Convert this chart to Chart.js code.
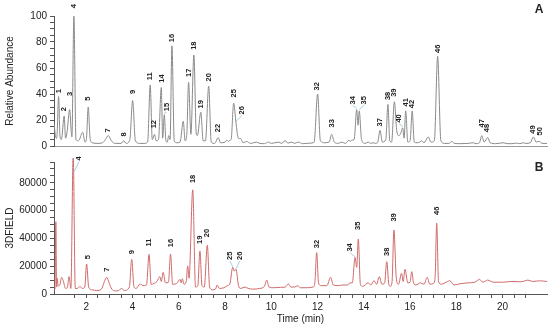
<!DOCTYPE html>
<html>
<head>
<meta charset="utf-8">
<script src="https://cdn.jsdelivr.net/npm/chart.js@4.4.1/dist/chart.umd.min.js"></script>
<style>
    html, body { margin: 0; padding: 0; background: #fff; }
    #wrap { position: relative; width: 550px; height: 331px; overflow: hidden; }
    #chartA { position: absolute; left: 0; top: 0; }
    #chartB { position: absolute; left: 0; top: 150px; }
</style>
</head>
<body>
<div id="wrap">
    <canvas id="chartA" width="550" height="155"></canvas>
    <canvas id="chartB" width="550" height="181"></canvas>
</div>
<script>
// panel A - total ion trace (relative abundance)
var timeA = [0.60, 0.66, 0.72, 0.80, 0.86, 0.92, 1.04, 1.10, 1.16, 1.28, 1.34, 1.375, 1.46, 1.55, 1.64, 1.69, 1.84, 1.94, 2.00, 2.08,
    2.16, 2.25, 2.50, 2.70, 2.82, 2.95, 3.08, 3.25, 3.50, 3.62, 3.72, 3.88, 4.00, 4.12, 4.30, 4.50, 4.65, 4.76, 4.85, 4.95,
    5.02, 5.12, 5.24, 5.30, 5.37, 5.44, 5.50, 5.56, 5.62, 5.70, 5.80, 5.90, 6.05, 6.19, 6.27, 6.34, 6.42, 6.52, 6.65, 6.75,
    6.80, 6.95, 7.05, 7.15, 7.29, 7.40, 7.55, 7.70, 7.80, 8.00, 8.07, 8.14, 8.21, 8.26, 8.37, 8.47, 8.57, 8.67, 8.78, 8.93,
    9.10, 9.36, 9.50, 9.70, 9.87, 10.00, 10.30, 10.45, 10.59, 10.72, 10.88, 11.00, 11.16, 11.35, 11.67, 11.85, 12.00, 12.12, 12.30, 12.50,
    12.61, 12.72, 12.90, 13.04, 13.20, 13.36, 13.42, 13.47, 13.58, 13.69, 13.75, 13.80, 13.90, 14.05, 14.19, 14.30, 14.39, 14.50, 14.60, 14.70,
    14.80, 14.95, 15.04, 15.12, 15.20, 15.32, 15.42, 15.50, 15.58, 15.68, 15.74, 15.81, 15.90, 16.00, 16.09, 16.18, 16.30, 16.42, 16.50, 16.60,
    16.79, 16.90, 17.05, 17.19, 17.33, 17.50, 17.68, 17.80, 17.92, 18.20, 18.50, 18.73, 18.85, 19.00, 19.10, 19.20, 19.36, 19.46, 19.70, 20.03,
    20.20, 20.40, 20.61, 20.75, 20.89, 21.00, 21.20, 21.33, 21.45, 21.59, 21.70, 21.92];
var abundA = [18, 8, 6, 38, 7, 5, 23, 6, 10, 28, 12, 7, 100, 5, 4, 4.5, 10.6, 3, 5, 30,
    6, 2.5, 2, 2.5, 5, 8, 4, 2, 2, 4, 2, 5, 35, 4, 2, 2, 3, 47, 5, 9,
    4, 5, 45, 6, 24, 4, 3, 8, 5, 77, 4, 2.5, 3, 19, 4, 8, 49, 9, 70, 10,
    8, 26, 4, 4, 46, 3, 2, 6.5, 2.5, 3, 4.5, 3.5, 4.5, 5, 33, 18, 6, 5.7, 2.5, 3.5,
    2, 3, 2, 1.8, 3, 2, 3, 2, 4.2, 2.2, 3, 2, 3, 1.8, 2.2, 3, 40, 4, 2.5, 3,
    9, 3, 2, 3, 2, 4.5, 3.5, 4.5, 5, 28, 16, 27, 5, 2, 3, 2, 2.5, 2, 3, 12,
    3, 5, 32, 4, 3, 34, 12, 8, 9, 14, 6, 27, 3, 4, 27, 3, 2.5, 3, 4, 2.5,
    7, 3, 4, 69, 4, 2, 2, 3.5, 2, 1.8, 2, 2.5, 1.8, 2.5, 8, 3, 6.5, 2.5, 1.8, 2.5,
    1.8, 1.8, 2.2, 1.8, 2.5, 2, 2.5, 7, 3, 3.6, 2, 2];

// panel B - 3D field trace
var timeB = [0.60, 0.64, 0.68, 0.71, 0.74, 0.78, 0.85, 0.93, 1.00, 1.10, 1.18, 1.25, 1.33, 1.43, 1.52, 1.60, 1.72, 1.84, 1.93, 2.01,
    2.10, 2.25, 2.45, 2.65, 2.78, 2.88, 2.98, 3.10, 3.25, 3.40, 3.52, 3.65, 3.86, 3.96, 4.06, 4.15, 4.32, 4.45, 4.60, 4.71,
    4.80, 4.92, 5.05, 5.18, 5.24, 5.32, 5.42, 5.55, 5.64, 5.73, 5.90, 6.05, 6.10, 6.15, 6.22, 6.32, 6.38, 6.44, 6.60, 6.72,
    6.82, 6.91, 7.00, 7.10, 7.23, 7.33, 7.45, 7.58, 7.66, 7.75, 7.95, 8.10, 8.20, 8.33, 8.40, 8.47, 8.58, 8.68, 8.86, 9.00,
    9.20, 9.50, 9.70, 9.80, 9.90, 10.10, 10.40, 10.60, 10.73, 10.85, 11.00, 11.14, 11.25, 11.50, 11.80, 11.88, 11.96, 12.04, 12.15, 12.40,
    12.56, 12.68, 12.90, 13.10, 13.30, 13.40, 13.50, 13.62, 13.69, 13.76, 13.85, 13.95, 14.19, 14.30, 14.44, 14.55, 14.67, 14.78, 14.90, 14.99,
    15.08, 15.15, 15.22, 15.30, 15.40, 15.50, 15.63, 15.70, 15.78, 15.90, 16.00, 16.07, 16.15, 16.25, 16.45, 16.60, 16.74, 16.85, 17.00, 17.08,
    17.15, 17.23, 17.35, 17.50, 17.72, 17.90, 18.20, 18.50, 18.80, 19.00, 19.15, 19.35, 19.60, 20.00, 20.40, 20.80, 21.10, 21.30, 21.60, 21.92];
var fieldB = [3000, 3500, 52000, 5000, 11300, 5800, 6500, 12000, 9500, 4000, 5000, 12500, 4000, 100000, 4000, 4000, 5300, 4000, 5000, 21600,
    5000, 3000, 2500, 3500, 9000, 12000, 8000, 3500, 2200, 2500, 4000, 2500, 5000, 25000, 5000, 4000, 7200, 6000, 6500, 28600,
    7000, 7500, 9000, 12500, 9000, 15600, 8000, 8500, 28800, 7000, 7500, 10500, 8000, 11000, 7000, 9000, 20200, 11300, 75000, 5000,
    6000, 31000, 6000, 5000, 35100, 5000, 3000, 3500, 6500, 4000, 4500, 6000, 7000, 19200, 16500, 17800, 6000, 4000, 5000, 4000,
    3500, 4000, 5500, 10000, 5000, 4500, 4800, 5000, 7200, 5000, 5000, 6000, 4500, 4500, 5000, 8000, 29800, 8000, 6000, 6000,
    12000, 6500, 6000, 6500, 6500, 8000, 8000, 26400, 19200, 39600, 7000, 5500, 8000, 6500, 9600, 7000, 12500, 7000, 8000, 23300,
    7000, 5500, 9000, 46100, 12000, 7000, 14900, 9000, 17800, 8000, 8500, 16100, 8000, 6500, 8000, 7000, 12000, 7000, 7500, 12000,
    51000, 9000, 7000, 8000, 9500, 6500, 7500, 8000, 8500, 10500, 8500, 10000, 8500, 8500, 9000, 8800, 10000, 9000, 9500, 9000];

// axis tick labels
var yLabelsA = [0, 20, 40, 60, 80, 100];
var yLabelsB = [0, 20000, 40000, 60000, 80000];
var xLabelsB = [2, 4, 6, 8, 10, 12, 14, 16, 18, 20];

// peak numbers: id, time of label, level of label foot
var peakIdsA = ['1', '2', '3', '4', '5', '7', '8', '9', '11', '12', '14', '15', '16', '17', '18', '19', '20', '22', '25', '26',
    '32', '33', '34', '35', '37', '38', '39', '40', '41', '42', '46', '47', '48', '49', '50'];
var peakTimeA = [0.80, 1.04, 1.28, 1.46, 2.08, 2.95, 3.62, 4.00, 4.76, 4.94, 5.27, 5.47, 5.69, 6.44, 6.65, 6.94, 7.29, 7.70, 8.38, 8.73,
    11.99, 12.62, 13.52, 14.00, 14.70, 15.03, 15.32, 15.53, 15.81, 16.09, 17.19, 19.10, 19.34, 21.33, 21.62];
var peakLevelA = [40.5, 26.7, 38.5, 106, 34.8, 10.4, 7.4, 40, 50.6, 13.6, 48.7, 26.7, 79.8, 53.1, 74, 28.9, 49.6, 10.6, 37.3, 24.2,
    42.7, 14.3, 31.9, 31.9, 15, 35.3, 37.8, 18, 30.4, 29.1, 71.6, 14.3, 10.6, 9.4, 8.1];
var leadersA = [['15', 5.37, 25], ['26', 8.47, 19], ['34', 13.69, 29], ['35', 13.80, 28], ['40', 15.68, 15]];

var peakIdsB = ['4', '5', '7', '9', '11', '16', '18', '19', '20', '25', '26', '32', '34', '35', '38', '39', '46'];
var peakTimeB = [1.68, 2.05, 2.90, 3.96, 4.71, 5.64, 6.60, 6.91, 7.23, 8.21, 8.64, 11.96, 13.40, 13.76, 14.99, 15.30, 17.15];
var peakLevelB = [96000, 25000, 16100, 28600, 34100, 33700, 79800, 36000, 40900, 24500, 24500, 32900, 30500, 46100, 27400, 52100, 56900];
var leadersB = [['4', 1.47, 88000], ['25', 8.33, 19500], ['26', 8.47, 18200], ['34', 13.62, 26800]];

Chart.defaults.font.family = '"Liberation Sans", Arial, sans-serif';
Chart.defaults.font.size = 10;
Chart.defaults.color = '#222';

function toPoints(xs, ys) {
    var pts = [];
    for (var i = 0; i < xs.length; i++) {
        pts.push({ x: xs[i], y: ys[i] });
    }
    return pts;
}

// keep only ticks that fall on the step
function keepSteps(step) {
    return function (scale) {
        scale.ticks = scale.ticks.filter(function (t) {
            var k = t.value / step;
            return Math.abs(k - Math.round(k)) < 1e-6;
        });
    };
}

function labelFrom(list) {
    return function (value) {
        for (var i = 0; i < list.length; i++) {
            if (Math.abs(list[i] - value) < 1e-6) return String(list[i]);
        }
        return '';
    };
}

function peakMarks(ids, times, levels, leaders, letter, letterY) {
    return {
        id: 'peakMarks',
        afterDraw: function (chart) {
            var ctx = chart.ctx;
            var sx = chart.scales.x;
            var sy = chart.scales.y;
            ctx.save();
            ctx.strokeStyle = '#8cc3de';
            ctx.lineWidth = 0.8;
            leaders.forEach(function (l) {
                var i = ids.indexOf(l[0]);
                ctx.beginPath();
                ctx.moveTo(sx.getPixelForValue(times[i]), sy.getPixelForValue(levels[i]) + 1);
                ctx.lineTo(sx.getPixelForValue(l[1]), sy.getPixelForValue(l[2]));
                ctx.stroke();
            });
            ctx.fillStyle = '#222';
            ctx.font = 'bold 7.5px "Liberation Sans", Arial, sans-serif';
            ctx.textAlign = 'left';
            ctx.textBaseline = 'middle';
            for (var i = 0; i < ids.length; i++) {
                ctx.save();
                ctx.translate(sx.getPixelForValue(times[i]), sy.getPixelForValue(levels[i]));
                ctx.rotate(-Math.PI / 2);
                ctx.fillText(ids[i], 0, 0);
                ctx.restore();
            }
            ctx.font = 'bold 12px "Liberation Sans", Arial, sans-serif';
            ctx.textAlign = 'center';
            ctx.fillText(letter, 539, letterY);
            ctx.restore();
        }
    };
}

var tickGrid = { display: true, drawOnChartArea: false, drawTicks: true, tickLength: 4, color: '#555' };

var chartA = new Chart(document.getElementById('chartA').getContext('2d'), {
    type: 'line',
    data: {
        datasets: [{
            data: toPoints(timeA, abundA),
            borderColor: '#8a8a8a',
            borderWidth: 1,
            pointRadius: 0,
            cubicInterpolationMode: 'monotone',
            fill: false
        }]
    },
    options: {
        responsive: false,
        animation: false,
        layout: { padding: { top: 16, right: 3, left: 0, bottom: 0 } },
        plugins: { legend: { display: false }, tooltip: { enabled: false } },
        scales: {
            x: {
                type: 'linear',
                min: 0.6,
                max: 21.92,
                ticks: { display: false },
                grid: { display: false },
                border: { display: true, color: '#999', width: 1 },
                afterFit: function (s) { s.height = 4; }
            },
            y: {
                min: 0,
                max: 100,
                ticks: { stepSize: 5, autoSkip: false, padding: 3, callback: labelFrom(yLabelsA) },
                afterBuildTicks: keepSteps(5),
                grid: tickGrid,
                border: { display: true, color: '#555', width: 1 },
                title: { display: true, text: 'Relative Abundance', padding: { top: 4, bottom: 0 } },
                afterFit: function (s) { s.width = 54; }
            }
        }
    },
    plugins: [peakMarks(peakIdsA, peakTimeA, peakLevelA, leadersA, 'A', 10)]
});

var chartB = new Chart(document.getElementById('chartB').getContext('2d'), {
    type: 'line',
    data: {
        datasets: [{
            data: toPoints(timeB, fieldB),
            borderColor: '#d06a6a',
            borderWidth: 1,
            pointRadius: 0,
            cubicInterpolationMode: 'monotone',
            fill: false,
            clip: { left: 1, top: 4, right: 1, bottom: 1 }
        }]
    },
    options: {
        responsive: false,
        animation: false,
        layout: { padding: { top: 12, right: 3, left: 0, bottom: 0 } },
        plugins: { legend: { display: false }, tooltip: { enabled: false } },
        scales: {
            x: {
                type: 'linear',
                min: 0.6,
                max: 21.92,
                ticks: { stepSize: 0.5, autoSkip: false, maxRotation: 0, padding: 3, callback: labelFrom(xLabelsB) },
                afterBuildTicks: keepSteps(0.5),
                grid: tickGrid,
                border: { display: true, color: '#555', width: 1 },
                title: { display: true, text: 'Time (min)', padding: { top: 0, bottom: 6 } },
                afterFit: function (s) { s.height = 37; }
            },
            y: {
                min: 0,
                max: 95000,
                ticks: { stepSize: 5000, autoSkip: false, padding: 3, callback: labelFrom(yLabelsB) },
                afterBuildTicks: keepSteps(5000),
                grid: tickGrid,
                border: { display: true, color: '#555', width: 1 },
                title: { display: true, text: '3DFIELD', padding: { top: 4, bottom: 0 } },
                afterFit: function (s) { s.width = 54; }
            }
        }
    },
    plugins: [peakMarks(peakIdsB, peakTimeB, peakLevelB, leadersB, 'B', 18)]
});
</script>
</body>
</html>
